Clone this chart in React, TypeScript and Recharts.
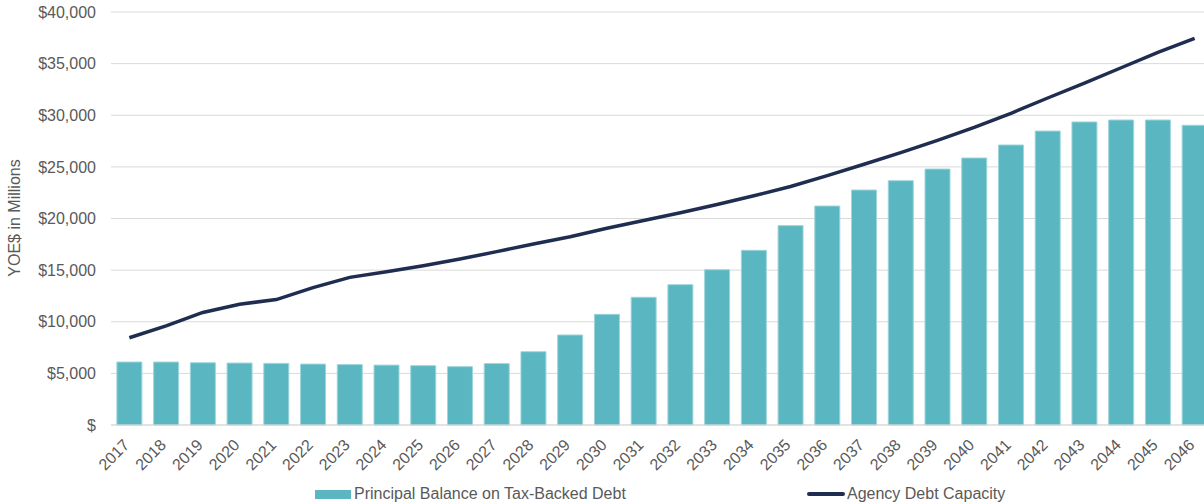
import React from "react"
import { Bar, CartesianGrid, ComposedChart, Label, Line, XAxis, YAxis } from "recharts"

const years = [
  "2017", "2018", "2019", "2020", "2021", "2022", "2023", "2024", "2025", "2026",
  "2027", "2028", "2029", "2030", "2031", "2032", "2033", "2034", "2035", "2036",
  "2037", "2038", "2039", "2040", "2041", "2042", "2043", "2044", "2045", "2046",
]

// Principal Balance on Tax-Backed Debt ($M)
const principal = [
  6100, 6100, 6030, 6000, 5970, 5900, 5850, 5800, 5750, 5650,
  5950, 7100, 8720, 10720, 12370, 13590, 15040, 16920, 19310, 21210,
  22760, 23660, 24790, 25860, 27120, 28470, 29350, 29540, 29540, 29030,
]

// Agency Debt Capacity ($M)
const capacity = [
  8450, 9600, 10900, 11700, 12150, 13300, 14300, 14850, 15430, 16080,
  16790, 17530, 18240, 19050, 19800, 20550, 21350, 22200, 23100, 24150,
  25250, 26380, 27570, 28830, 30190, 31670, 33100, 34600, 36100, 37450,
]

const yTicks = [0, 5000, 10000, 15000, 20000, 25000, 30000, 35000, 40000]

const seriesNames = ["Principal Balance on Tax-Backed Debt", "Agency Debt Capacity"]

const BAR_COLOR = "#5ab6c0"
const LINE_COLOR = "#1f2d50"
const TEXT_COLOR = "#595959"
const FONT = "'Liberation Sans', Arial, sans-serif"

const data = years.map((y, i) => ({ year: y, principal: principal[i], capacity: capacity[i] }))

const formatMoney = (v: number) => (v === 0 ? "$" : "$" + v.toLocaleString("en-US"))

const YearTick = (props: any) => {
  const { x, y, payload } = props
  return (
    <g transform={`translate(${x + 1},${y + 13})`}>
      <text x={0} y={0} textAnchor="end" fill={TEXT_COLOR} fontSize={16} fontFamily={FONT} transform="rotate(-45)">
        {payload.value}
      </text>
    </g>
  )
}

const AxisTitle = () => (
  <text
    x={14}
    y={218}
    textAnchor="middle"
    dominantBaseline="central"
    fill={TEXT_COLOR}
    fontSize={16}
    fontFamily={FONT}
    transform="rotate(-90, 14, 218)">
    YOE$ in Millions
  </text>
)

const App: React.FC = () => {
  return (
    <div style={{ position: "absolute", left: 0, top: 0, width: 1204, height: 504, overflow: "hidden", background: "#fff" }}>
      <ComposedChart
        width={1240}
        height={504}
        data={data}
        margin={{ top: 12, right: 27, bottom: 19, left: 0 }}
        barCategoryGap="16%">
        <CartesianGrid vertical={false} stroke="#d9d9d9" strokeWidth={1} />
        <XAxis
          dataKey="year"
          height={60}
          interval={0}
          stroke="#d9d9d9"
          tickLine={false}
          tick={<YearTick />}
        />
        <YAxis
          width={111}
          domain={[0, 40000]}
          ticks={yTicks}
          axisLine={false}
          tickLine={false}
          tickMargin={9}
          tickFormatter={formatMoney}
          tick={{ fill: TEXT_COLOR, fontSize: 16, fontFamily: FONT }}>
          <Label content={() => <AxisTitle />} />
        </YAxis>
        <Bar
          dataKey="principal"
          name={seriesNames[0]}
          fill={BAR_COLOR}
          stroke="#9fd6dc"
          strokeWidth={1}
          isAnimationActive={false}
        />
        <Line
          dataKey="capacity"
          name={seriesNames[1]}
          type="linear"
          stroke={LINE_COLOR}
          strokeWidth={3.5}
          dot={false}
          activeDot={false}
          isAnimationActive={false}
        />
      </ComposedChart>

      {/* legend, drawn by hand so it does not eat into the plot height */}
      <div style={{ position: "absolute", left: 315, top: 486, display: "flex", alignItems: "center", fontFamily: FONT, fontSize: 16, color: TEXT_COLOR, lineHeight: "16px" }}>
        <div style={{ width: 36, height: 9, background: BAR_COLOR, marginRight: 3 }} />
        <span>{seriesNames[0]}</span>
      </div>
      <div style={{ position: "absolute", left: 807, top: 486, display: "flex", alignItems: "center", fontFamily: FONT, fontSize: 16, color: TEXT_COLOR, lineHeight: "16px" }}>
        <div style={{ width: 38, height: 4, borderRadius: 2, background: LINE_COLOR, marginRight: 2 }} />
        <span>{seriesNames[1]}</span>
      </div>
    </div>
  )
}

export default App
